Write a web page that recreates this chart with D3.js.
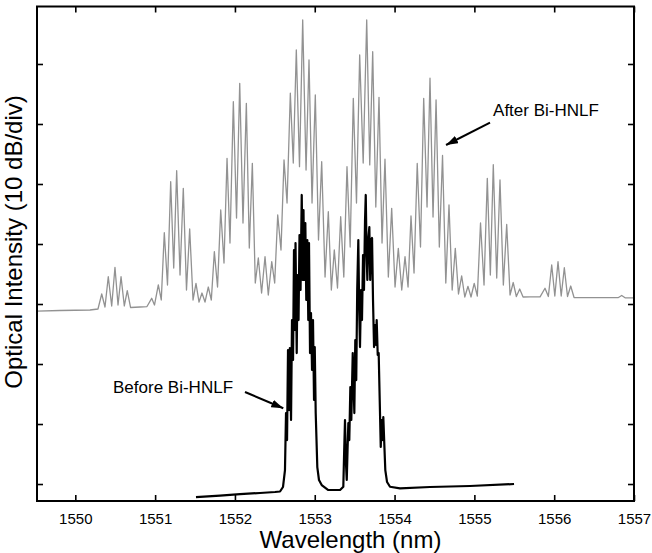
<!DOCTYPE html>
<html>
<head>
<meta charset="utf-8">
<script src="https://cdnjs.cloudflare.com/ajax/libs/d3/7.8.5/d3.min.js"></script>
<style>
  body { margin: 0; background: #fff; }
  svg { display: block; }
</style>
</head>
<body>
<svg id="chart" width="652" height="553"></svg>
<script>
// Spectrum after Bi-HNLF (grey trace) - wavelength in nm, level in dB (10 dB/div)
const afterNm = [
  1549.520, 1549.808, 1550.184, 1550.284, 1550.331, 1550.372, 1550.413, 1550.456, 1550.497, 1550.535,
  1550.573, 1550.614, 1550.651, 1550.692, 1550.811, 1550.898, 1550.957, 1550.992, 1551.040, 1551.077,
  1551.115, 1551.155, 1551.195, 1551.233, 1551.270, 1551.312, 1551.353, 1551.393, 1551.433, 1551.475,
  1551.512, 1551.550, 1551.587, 1551.625, 1551.666, 1551.704, 1551.742, 1551.782, 1551.822, 1551.863,
  1551.901, 1551.938, 1551.980, 1552.020, 1552.060, 1552.101, 1552.143, 1552.180, 1552.218, 1552.255,
  1552.293, 1552.334, 1552.377, 1552.418, 1552.461, 1552.498, 1552.536, 1552.577, 1552.615, 1552.653,
  1552.694, 1552.731, 1552.769, 1552.809, 1552.849, 1552.891, 1552.928, 1552.966, 1553.007, 1553.047,
  1553.087, 1553.129, 1553.170, 1553.208, 1553.245, 1553.285, 1553.325, 1553.364, 1553.404, 1553.444,
  1553.483, 1553.523, 1553.563, 1553.607, 1553.651, 1553.689, 1553.726, 1553.765, 1553.805, 1553.843,
  1553.880, 1553.922, 1553.964, 1554.006, 1554.047, 1554.090, 1554.131, 1554.169, 1554.206, 1554.244,
  1554.284, 1554.325, 1554.365, 1554.407, 1554.444, 1554.482, 1554.520, 1554.561, 1554.601, 1554.642,
  1554.682, 1554.722, 1554.761, 1554.801, 1554.841, 1554.880, 1554.920, 1554.958, 1554.998, 1555.037,
  1555.077, 1555.121, 1555.162, 1555.200, 1555.237, 1555.280, 1555.321, 1555.363, 1555.405, 1555.447,
  1555.487, 1555.526, 1555.568, 1555.610, 1555.697, 1555.823, 1555.885, 1555.927, 1555.969, 1556.008,
  1556.048, 1556.088, 1556.127, 1556.167, 1556.207, 1556.249, 1556.449, 1556.800, 1556.846, 1556.888,
  1557.000
];
const afterDb = [
  -51.17, -51.08, -51.00, -50.83, -48.33, -50.50, -45.45, -50.33, -43.88, -50.17,
  -45.45, -50.33, -47.78, -50.58, -50.50, -50.42, -49.05, -50.17, -46.83, -49.33,
  -38.12, -46.83, -29.62, -44.00, -27.78, -45.17, -30.72, -47.67, -37.50, -49.33,
  -46.55, -49.67, -48.17, -49.67, -47.17, -49.33, -41.28, -47.17, -34.33, -43.17,
  -25.72, -39.83, -16.28, -35.67, -13.22, -36.50, -16.55, -40.67, -26.55, -46.50,
  -42.33, -48.17, -42.12, -48.50, -42.95, -46.50, -35.17, -41.00, -26.00, -33.17,
  -14.88, -26.50, -7.67, -27.12, -2.67, -27.67, -9.33, -33.17, -15.17, -39.33,
  -26.28, -45.50, -34.62, -47.67, -41.00, -47.33, -35.45, -45.50, -27.12, -40.50,
  -15.72, -33.17, -8.50, -26.50, -2.67, -26.83, -7.95, -33.83, -15.55, -39.83,
  -25.88, -45.50, -34.05, -47.17, -40.72, -47.67, -42.12, -47.17, -35.33, -44.83,
  -26.58, -40.50, -15.72, -33.83, -12.38, -35.50, -16.00, -40.50, -25.25, -46.50,
  -33.50, -47.67, -40.72, -48.33, -45.33, -48.83, -47.05, -48.83, -46.55, -48.67,
  -36.50, -46.83, -29.05, -45.17, -26.78, -45.67, -29.33, -46.83, -36.75, -48.50,
  -46.42, -48.75, -47.50, -48.83, -48.80, -48.80, -47.38, -48.75, -43.50, -48.67,
  -42.95, -48.67, -43.95, -48.75, -47.00, -48.92, -48.95, -48.95, -48.58, -48.97,
  -48.97
];

// Spectrum before Bi-HNLF (black trace)
const beforeNm = [
  // baseline, left
  1551.512, 1551.813, 1552.064, 1552.314, 1552.502, 1552.565, 1552.602,
  // first lobe
  1552.627, 1552.640, 1552.653, 1552.665, 1552.678, 1552.688, 1552.703, 1552.715, 1552.728, 1552.740,
  1552.753, 1552.759, 1552.774, 1552.784, 1552.797, 1552.809, 1552.822, 1552.837, 1552.849, 1552.859,
  1552.869, 1552.882, 1552.894, 1552.907, 1552.919, 1552.928, 1552.941, 1552.953, 1552.966, 1552.978,
  1552.991, 1553.000, 1553.012, 1553.022, 1553.032, 1553.053, 1553.087,
  // gap
  1553.170, 1553.317,
  // second lobe
  1553.358, 1553.369, 1553.379, 1553.389, 1553.401, 1553.411, 1553.421, 1553.433, 1553.446, 1553.458,
  1553.476, 1553.488, 1553.496, 1553.508, 1553.520, 1553.532, 1553.546, 1553.557, 1553.567, 1553.580,
  1553.592, 1553.605, 1553.617, 1553.630, 1553.639, 1553.649, 1553.659, 1553.671, 1553.684, 1553.695,
  1553.708, 1553.718, 1553.730, 1553.743, 1553.755, 1553.768, 1553.776, 1553.789, 1553.801, 1553.814,
  1553.827, 1553.837, 1553.847, 1553.859, 1553.872, 1553.884, 1553.906, 1553.943,
  // baseline, right
  1554.068, 1554.444, 1554.945, 1555.497
];
const beforeDb = [
  -82.17, -81.92, -81.67, -81.50, -81.33, -81.25, -80.50,
  -77.67, -68.17, -72.67, -57.67, -67.67, -57.33, -69.33, -52.67, -59.33, -41.00,
  -54.33, -39.83, -58.17, -45.17, -52.67, -38.50, -47.67, -31.83, -46.00, -34.33,
  -46.00, -36.50, -49.33, -39.33, -52.67, -39.83, -58.17, -51.50, -61.00, -52.67,
  -66.00, -57.17, -68.17, -72.67, -77.17, -79.33, -80.17,
  -81.00, -81.00,
  -80.45, -74.33, -69.33, -76.00, -79.33, -74.33, -69.83, -72.67, -63.83, -69.33,
  -58.17, -64.33, -68.17, -56.00, -62.67, -47.67, -39.33, -51.00, -57.17, -47.67,
  -52.67, -41.83, -47.67, -36.00, -31.83, -41.00, -46.00, -39.33, -37.17, -46.00,
  -39.33, -39.00, -49.33, -57.17, -53.50, -56.83, -52.67, -58.50, -58.17, -66.00,
  -73.83, -69.33, -72.67, -68.83, -73.50, -77.67, -79.67, -80.45,
  -80.72, -80.50, -80.33, -80.00
];

const xTicks = [1550, 1551, 1552, 1553, 1554, 1555, 1556, 1557];
const yTicks = [-80, -70, -60, -50, -40, -30, -20, -10];

const annotations = [
  { text: "After Bi-HNLF", tx: 1555.234, ty: -18.67, anchor: "start",
    from: [1555.196, -19.78], to: [1554.645, -23.5] },
  { text: "Before Bi-HNLF", tx: 1551.976, ty: -64.75, anchor: "end",
    from: [1552.126, -64.67], to: [1552.606, -67.38] }
];

const svg = d3.select("#chart");
const fontFamily = "Arial, 'Liberation Sans', Helvetica, sans-serif";

const plot = { left: 37, right: 634, top: 6.5, bottom: 501 };

const x = d3.scaleLinear().domain([1549.52, 1557]).range([plot.left, plot.right]);
const y = d3.scaleLinear().domain([-82.83, -0.42]).range([plot.bottom, plot.top]);

svg.append("rect").attr("width", 652).attr("height", 553).attr("fill", "#fff");

// Traces
const afterData = afterNm.map((d, i) => [d, afterDb[i]]);
const beforeData = beforeNm.map((d, i) => [d, beforeDb[i]]);

const line = d3.line().x(d => x(d[0])).y(d => y(d[1]));

svg.append("path")
  .datum(afterData)
  .attr("d", line)
  .attr("fill", "none")
  .attr("stroke", "#929292")
  .attr("stroke-width", 1.3)
  .attr("stroke-linejoin", "round");

svg.append("path")
  .datum(beforeData)
  .attr("d", line)
  .attr("fill", "none")
  .attr("stroke", "#000")
  .attr("stroke-width", 2.2)
  .attr("stroke-linejoin", "round");

// Axes (ticks inward on all four sides)
const xAxisB = svg.append("g").attr("transform", `translate(0,${plot.bottom})`)
  .call(d3.axisBottom(x).tickValues(xTicks).tickSize(-6).tickPadding(12).tickFormat(d3.format("d")));
svg.append("g").attr("transform", `translate(0,${plot.top})`)
  .call(d3.axisTop(x).tickValues(xTicks).tickSize(-6).tickFormat(""));
svg.append("g").attr("transform", `translate(${plot.left},0)`)
  .call(d3.axisLeft(y).tickValues(yTicks).tickSize(-6).tickFormat(""));
svg.append("g").attr("transform", `translate(${plot.right},0)`)
  .call(d3.axisRight(y).tickValues(yTicks).tickSize(-6).tickFormat(""));

svg.selectAll(".domain").remove();
svg.selectAll(".tick line").attr("stroke", "#000").attr("stroke-width", 1.6);

xAxisB.selectAll("text")
  .attr("fill", "#000")
  .style("font-family", fontFamily)
  .style("font-size", "15px");

// Frame
svg.append("rect")
  .attr("x", plot.left).attr("y", plot.top)
  .attr("width", plot.right - plot.left).attr("height", plot.bottom - plot.top)
  .attr("fill", "none")
  .attr("stroke", "#000")
  .attr("stroke-width", 2);

// Axis titles
svg.append("text")
  .attr("x", (plot.left + plot.right) / 2 + 15)
  .attr("y", 548)
  .attr("text-anchor", "middle")
  .style("font-family", fontFamily)
  .style("font-size", "24px")
  .text("Wavelength (nm)");

svg.append("text")
  .attr("transform", "translate(22,242) rotate(-90)")
  .attr("text-anchor", "middle")
  .style("font-family", fontFamily)
  .style("font-size", "24px")
  .text("Optical Intensity (10 dB/div)");

// Annotations with arrows
svg.append("defs").append("marker")
  .attr("id", "arrow")
  .attr("markerUnits", "userSpaceOnUse")
  .attr("viewBox", "0 0 12 8")
  .attr("refX", 12).attr("refY", 4)
  .attr("markerWidth", 12).attr("markerHeight", 8)
  .attr("orient", "auto")
  .append("path")
  .attr("d", "M0,0 L12,4 L0,8 Z")
  .attr("fill", "#000");

annotations.forEach(a => {
  svg.append("line")
    .attr("x1", x(a.from[0])).attr("y1", y(a.from[1]))
    .attr("x2", x(a.to[0])).attr("y2", y(a.to[1]))
    .attr("stroke", "#000")
    .attr("stroke-width", 2)
    .attr("marker-end", "url(#arrow)");
  svg.append("text")
    .attr("x", x(a.tx)).attr("y", y(a.ty))
    .attr("text-anchor", a.anchor)
    .style("font-family", fontFamily)
    .style("font-size", "17px")
    .text(a.text);
});
</script>
</body>
</html>
